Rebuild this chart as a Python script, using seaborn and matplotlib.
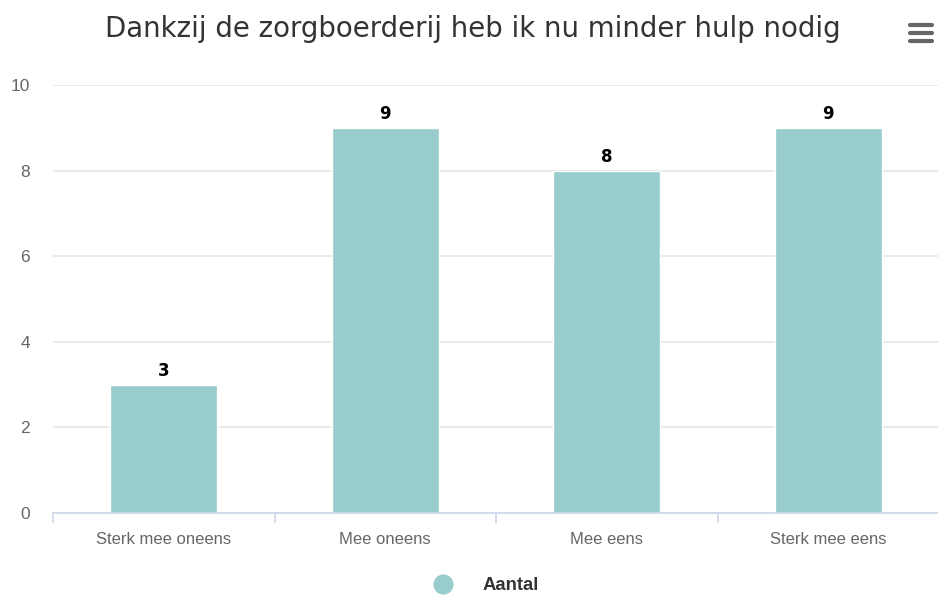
import matplotlib
matplotlib.use("Agg")
import matplotlib.pyplot as plt
import seaborn as sns
import pandas as pd
from matplotlib.lines import Line2D

categories = ["Sterk mee oneens", "Mee oneens", "Mee eens", "Sterk mee eens"]
aantal = [3, 9, 8, 9]
y_ticks = [0, 2, 4, 6, 8, 10]
title = "Dankzij de zorgboerderij heb ik nu minder hulp nodig"
series_name = "Aantal"

bar_color = "#99cccc"
W, H = 938, 597

sns.set_style("white")
plt.rcParams["font.family"] = ["Liberation Sans", "DejaVu Sans"]

df = pd.DataFrame({"categorie": categories, "aantal": aantal})

fig = plt.figure(figsize=(W / 100, H / 100), dpi=100)
ax = fig.add_axes([53 / W, (H - 513) / H, (939 - 53) / W, (513 - 85) / H])

sns.barplot(data=df, x="categorie", y="aantal", color=bar_color,
            width=0.485, saturation=1, ax=ax, zorder=3)

ax.set_xlim(-0.5, len(categories) - 0.5)
ax.set_ylim(0, 10)
ax.set_yticks(y_ticks)
ax.set_yticklabels([str(t) for t in y_ticks])
ax.set_xlabel("")
ax.set_ylabel("")

# horizontal grid
ax.yaxis.grid(True, color="#e6e6e6", linewidth=1.2, zorder=0)
ax.set_axisbelow(True)

for s in ["top", "right", "left"]:
    ax.spines[s].set_visible(False)
ax.spines["bottom"].set_color("#ccd6eb")
ax.spines["bottom"].set_linewidth(1.2)
ax.spines["bottom"].set_zorder(4)

# category boundary ticks
ax.set_xticks([i - 0.5 for i in range(len(categories) + 1)], minor=True)
ax.tick_params(axis="x", which="minor", bottom=True, length=7.5, width=1.2,
               color="#ccd6eb", direction="out")
ax.tick_params(axis="x", which="major", bottom=True, length=0, pad=14,
               labelsize=12, labelcolor="#666666")
ax.tick_params(axis="y", length=0, pad=16.5, labelsize=12.5, labelcolor="#666666")

# value labels
for i, v in enumerate(aantal):
    ax.annotate(str(v), (i, v), xytext=(0, 3.5), textcoords="offset points",
                ha="center", va="bottom", fontsize=12, fontweight="bold",
                color="black", family="DejaVu Sans")

fig.text(473 / W, 1 - 29 / H, title, ha="center", va="center",
         fontsize=19.9, color="#333333", family="DejaVu Sans")

# legend
fig.add_artist(Line2D([443 / W], [1 - 584 / H], marker="o", markersize=13.5,
                      color=bar_color, linestyle="none", transform=fig.transFigure))
fig.text(483 / W, 1 - 585 / H, series_name, ha="left", va="center",
         fontsize=13.3, fontweight="bold", color="#333333")

# menu icon
for yy in (25, 33, 41):
    fig.add_artist(Line2D([910 / W, 932 / W], [1 - yy / H, 1 - yy / H],
                          color="#666666", linewidth=3, solid_capstyle="round",
                          transform=fig.transFigure))

fig.savefig("out.png", dpi=100)
